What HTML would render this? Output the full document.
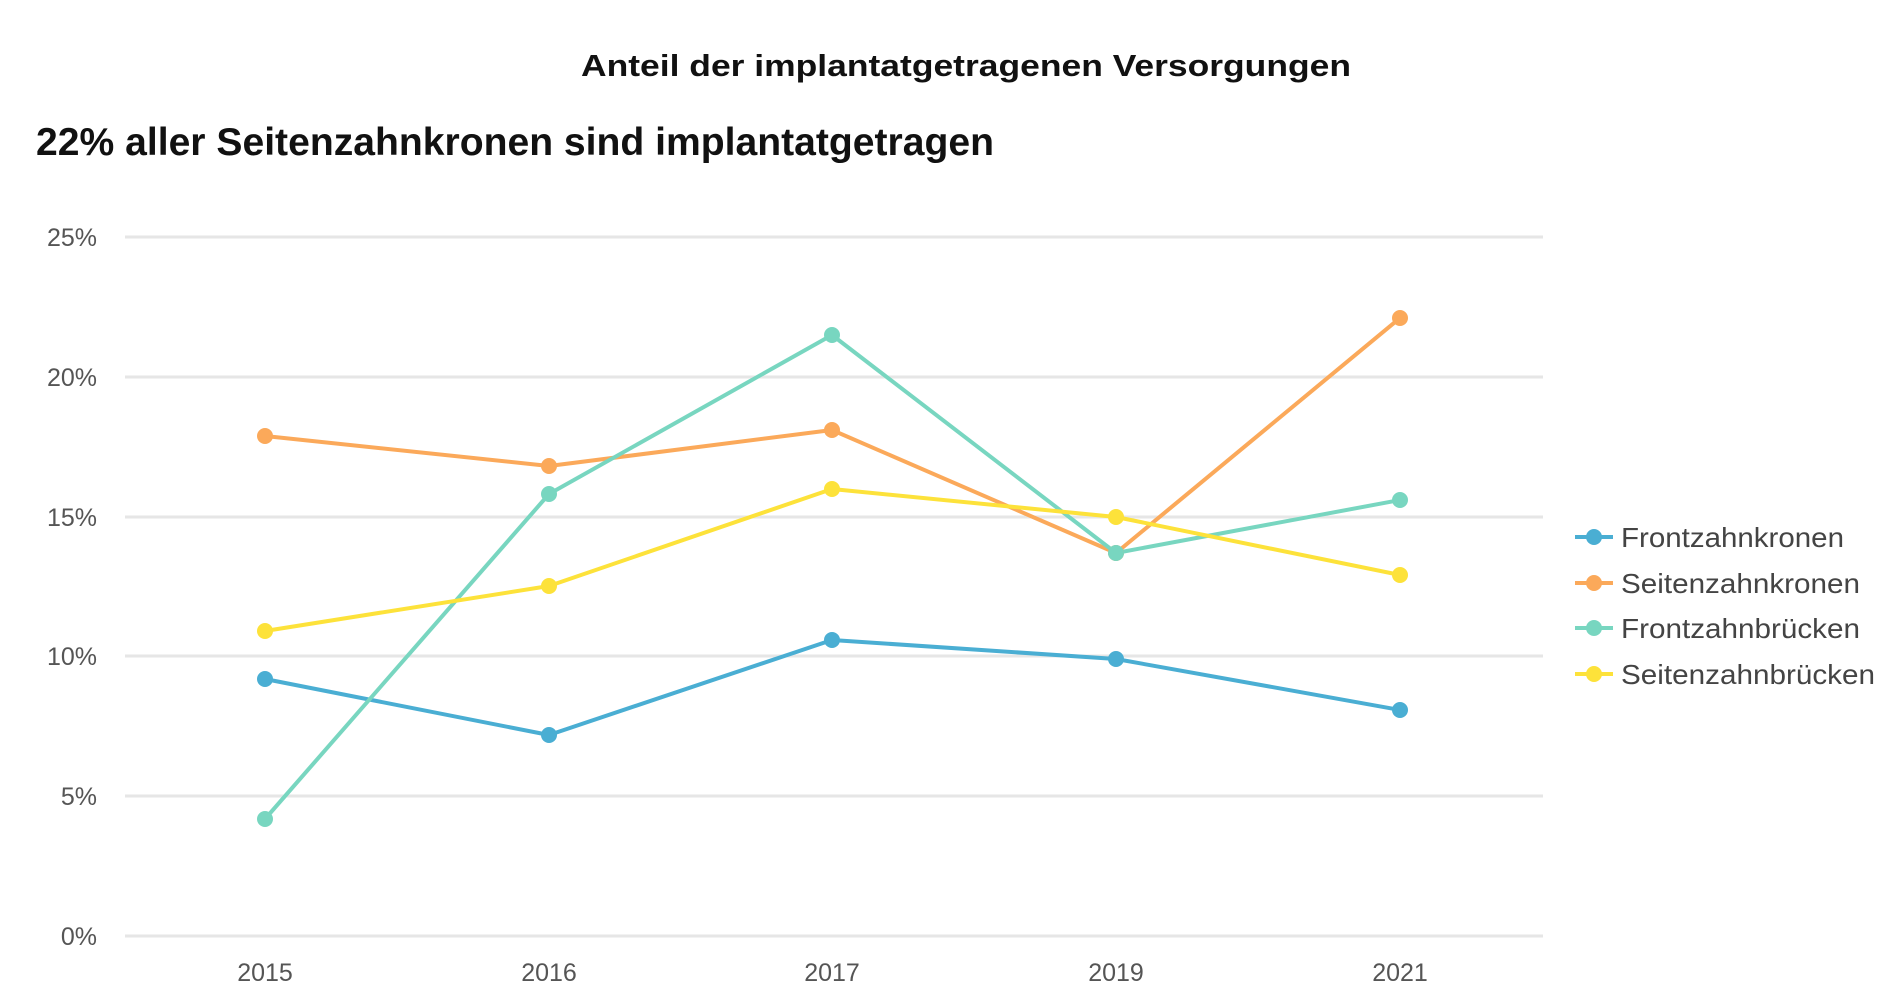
<!DOCTYPE html>
<html><head><meta charset="utf-8"><style>
html,body{margin:0;padding:0;background:#fff;}
svg{display:block}
</style></head><body>
<svg width="1900" height="1007" xmlns="http://www.w3.org/2000/svg" font-family="Liberation Sans, sans-serif">
<text x="966" y="76" text-anchor="middle" font-size="31" font-weight="bold" fill="#111" textLength="770" lengthAdjust="spacingAndGlyphs">Anteil der implantatgetragenen Versorgungen</text>
<text x="36" y="155" font-size="39" font-weight="bold" fill="#111" textLength="958" lengthAdjust="spacingAndGlyphs">22% aller Seitenzahnkronen sind implantatgetragen</text>
<g stroke="#e6e6e6" stroke-width="3">
<line x1="125" x2="1543" y1="237" y2="237"/>
<line x1="125" x2="1543" y1="377" y2="377"/>
<line x1="125" x2="1543" y1="517" y2="517"/>
<line x1="125" x2="1543" y1="656" y2="656"/>
<line x1="125" x2="1543" y1="796" y2="796"/>
<line x1="125" x2="1543" y1="936" y2="936"/>
</g>
<g font-size="25" fill="#555" text-anchor="end">
<text x="97" y="246">25%</text>
<text x="97" y="386">20%</text>
<text x="97" y="526">15%</text>
<text x="97" y="665">10%</text>
<text x="97" y="805">5%</text>
<text x="97" y="945">0%</text>
</g>
<g font-size="25" fill="#555" text-anchor="middle">
<text x="265" y="981">2015</text>
<text x="549" y="981">2016</text>
<text x="832" y="981">2017</text>
<text x="1116" y="981">2019</text>
<text x="1400" y="981">2021</text>
</g>
<g fill="none" stroke-width="4" stroke-linejoin="round">
<polyline stroke="#4aaed3" points="265,679 549,735 832,640 1116,659 1400,710"/>
<polyline stroke="#fba95a" points="265,436 549,466 832,430 1116,553 1400,318"/>
<polyline stroke="#78d6c0" points="265,819 549,494 832,335 1116,553 1400,500"/>
<polyline stroke="#fde23a" points="265,631 549,586 832,489 1116,517 1400,575"/>
</g>
<g fill="#4aaed3"><circle cx="265" cy="679" r="8"/><circle cx="549" cy="735" r="8"/><circle cx="832" cy="640" r="8"/><circle cx="1116" cy="659" r="8"/><circle cx="1400" cy="710" r="8"/></g>
<g fill="#fba95a"><circle cx="265" cy="436" r="8"/><circle cx="549" cy="466" r="8"/><circle cx="832" cy="430" r="8"/><circle cx="1116" cy="553" r="8"/><circle cx="1400" cy="318" r="8"/></g>
<g fill="#78d6c0"><circle cx="265" cy="819" r="8"/><circle cx="549" cy="494" r="8"/><circle cx="832" cy="335" r="8"/><circle cx="1116" cy="553" r="8"/><circle cx="1400" cy="500" r="8"/></g>
<g fill="#fde23a"><circle cx="265" cy="631" r="8"/><circle cx="549" cy="586" r="8"/><circle cx="832" cy="489" r="8"/><circle cx="1116" cy="517" r="8"/><circle cx="1400" cy="575" r="8"/></g>
<g font-size="28" fill="#444">
<line x1="1575" x2="1613" y1="537" y2="537" stroke="#4aaed3" stroke-width="4"/><circle cx="1594" cy="537" r="8" fill="#4aaed3"/>
<text x="1621" y="547" textLength="223" lengthAdjust="spacingAndGlyphs">Frontzahnkronen</text>
<line x1="1575" x2="1613" y1="583" y2="583" stroke="#fba95a" stroke-width="4"/><circle cx="1594" cy="583" r="8" fill="#fba95a"/>
<text x="1621" y="593" textLength="239" lengthAdjust="spacingAndGlyphs">Seitenzahnkronen</text>
<line x1="1575" x2="1613" y1="628" y2="628" stroke="#78d6c0" stroke-width="4"/><circle cx="1594" cy="628" r="8" fill="#78d6c0"/>
<text x="1621" y="638" textLength="239" lengthAdjust="spacingAndGlyphs">Frontzahnbrücken</text>
<line x1="1575" x2="1613" y1="674" y2="674" stroke="#fde23a" stroke-width="4"/><circle cx="1594" cy="674" r="8" fill="#fde23a"/>
<text x="1621" y="684" textLength="254" lengthAdjust="spacingAndGlyphs">Seitenzahnbrücken</text>
</g>
</svg>
</body></html>
